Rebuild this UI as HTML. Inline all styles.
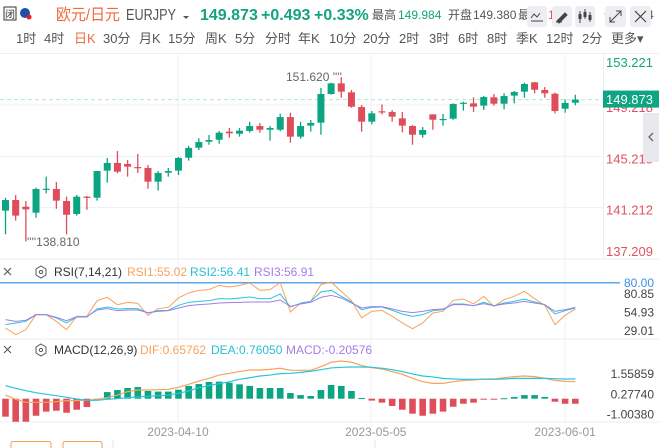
<!DOCTYPE html>
<html><head><meta charset="utf-8">
<style>
body{margin:0;width:659px;height:448px;overflow:hidden;background:#fff;font-family:"Liberation Sans","Noto Sans CJK SC",sans-serif;}
svg{display:block}
</style></head>
<body>
<svg id="chart" width="659" height="448" viewBox="0 0 659 448" xmlns="http://www.w3.org/2000/svg" font-family="Liberation Sans, Noto Sans CJK SC, sans-serif">
<g>
 <rect x="4" y="7" width="12" height="13" fill="none" stroke="#333" stroke-width="1"/>
 <text x="10" y="18" font-size="10" text-anchor="middle" fill="#333">闭</text>
 <circle cx="25" cy="13" r="5" fill="#1f4fa8"/>
 <circle cx="29" cy="17" r="2.5" fill="#e02020"/>
 <text x="56" y="20" font-size="16" fill="#f06a3c" textLength="64" lengthAdjust="spacingAndGlyphs">欧元/日元</text>
 <text x="126" y="20" font-size="16" fill="#555" textLength="50" lengthAdjust="spacingAndGlyphs">EURJPY</text>
 <path d="M183 16 l6 0 l-3 3z" fill="#555"/>
 <text x="200" y="20" font-size="16" font-weight="bold" fill="#14a37f">149.873</text>
 <text x="261" y="20" font-size="16" font-weight="bold" fill="#14a37f">+0.493</text>
 <text x="314" y="20" font-size="16" font-weight="bold" fill="#14a37f">+0.33%</text>
 <text x="372" y="19" font-size="12" fill="#555">最高</text>
 <text x="398" y="19" font-size="12" fill="#14a37f">149.984</text>
 <text x="448" y="19" font-size="12" fill="#555">开盘</text>
 <text x="473" y="19" font-size="12" fill="#555">149.380</text>
 <text x="518" y="19" font-size="12" fill="#555">最</text>
 <text x="548" y="19" font-size="12" fill="#e0525e">1</text>
 <text x="604" y="19" font-size="12" fill="#555">作</text>
 <text x="647" y="19" font-size="12" fill="#555">4</text>
 <rect x="527" y="6" width="20" height="21" rx="3" fill="#eceef2"/>
 <path d="M531 18 l3-4 l3 3 l3-4 M531 21 h12" stroke="#444" fill="none" stroke-width="1"/>
 <rect x="552" y="6" width="20" height="21" rx="3" fill="#eceef2"/>
 <path d="M557 21 l8-8 l2 2 l-8 8z M556 22 h6" stroke="#444" fill="#444" stroke-width="1"/>
 <rect x="575" y="6" width="20" height="21" rx="3" fill="#eceef2"/>
 <path d="M580 11 v12 M585 9 v10 M590 12 v10" stroke="#444" stroke-width="1"/><rect x="578.5" y="14" width="3" height="5" fill="#444"/><rect x="583.5" y="12" width="3" height="5" fill="#444"/><rect x="588.5" y="15" width="3" height="5" fill="#444"/>
 <rect x="605" y="6" width="21" height="21" rx="3" fill="#eceef2"/>
 <path d="M610 22 l11-11 M616 11 h5 v5 M610 17 v5 h5" stroke="#444" fill="none" stroke-width="1"/>
 <rect x="630" y="6" width="21" height="21" rx="3" fill="#eceef2"/>
 <path d="M635 11 l11 11 M646 11 l-11 11" stroke="#444" stroke-width="1.2"/>
</g>
<g id="periods" font-size="13" fill="#555"></g>
<line x1="0" y1="53.5" x2="659" y2="53.5" stroke="#eceef2"/>
<g id="grid"></g>
<g id="main"></g>
<g id="rsi"></g>
<g id="macd"></g>
<g id="axes"></g>
</svg>
<script>
const NS="http://www.w3.org/2000/svg";
// ---- data ----
const opens=[141.21,142.04,141.52,141.05,142.84,142.90,141.96,140.95,142.30,142.22,144.33,144.93,144.85,144.61,144.54,143.47,144.17,144.33,145.34,146.12,146.59,146.74,147.37,147.21,147.42,147.81,147.52,147.52,148.51,146.98,147.84,148.07,150.31,151.14,150.44,149.29,148.15,148.96,148.90,148.41,147.81,147.13,148.72,148.28,148.38,149.55,149.58,149.40,150.05,149.55,150.18,150.49,151.22,150.62,150.33,149.16,149.63];
const highs=[142.22,142.43,141.96,143.00,143.86,143.44,142.30,142.43,142.35,144.30,145.32,145.86,145.16,145.63,144.77,144.30,144.54,145.39,146.25,146.85,147.11,147.42,147.66,147.66,148.15,148.05,147.81,148.77,148.85,148.15,148.28,150.78,151.19,151.62,150.62,149.45,148.98,149.50,149.06,148.90,147.89,147.73,148.72,148.75,149.58,149.71,150.05,150.15,150.31,150.36,150.54,151.19,151.24,150.85,150.41,149.89,150.25];
const lows=[139.36,140.43,138.81,140.66,142.56,141.36,139.36,140.82,141.28,141.99,143.39,144.12,143.86,144.15,142.92,142.77,143.86,143.99,145.11,145.94,146.35,146.43,146.90,146.98,147.29,147.29,146.67,147.40,146.51,146.82,147.37,147.13,150.25,150.02,149.24,147.37,147.94,148.72,148.15,147.32,146.35,146.90,147.52,147.84,148.30,149.01,148.90,149.06,149.40,149.11,149.58,150.02,150.36,150.02,148.80,148.85,149.43];
const closes=[142.04,140.82,141.31,142.90,142.92,141.99,140.89,142.30,142.22,144.30,144.93,144.25,144.64,144.56,143.47,144.15,144.30,145.32,146.10,146.56,146.72,147.29,147.24,147.45,147.81,147.52,147.66,148.51,146.98,147.81,148.05,150.31,151.14,150.49,149.32,148.15,148.80,148.88,148.54,147.84,147.13,147.50,148.30,148.36,149.53,149.63,149.32,150.07,149.55,150.15,150.46,151.09,150.64,150.36,148.98,149.61,149.87];
const rsi1=[33.0,23.6,30.6,51.6,51.6,42.3,30.6,49.3,49.3,71.2,75.9,65.6,68.9,67.5,50.7,60.0,61.9,75.0,82.0,85.7,86.7,92.7,90.4,92.7,96.0,85.7,86.7,96.5,55.4,68.0,70.3,93.7,97.4,84.3,71.2,47.0,56.3,57.7,49.3,40.0,32.0,40.0,54.0,56.3,71.7,73.6,66.6,77.3,63.3,72.6,77.3,84.3,74.0,64.7,37.6,50.7,59.6];
const rsi2=[37.6,40.0,42.3,51.6,51.6,47.0,40.0,48.4,48.4,59.6,62.4,59.6,60.0,60.0,54.0,57.2,57.7,64.7,68.9,70.3,71.2,74.0,73.6,75.0,76.4,74.0,74.0,80.6,62.4,67.5,70.3,83.4,85.7,77.3,69.4,58.6,61.9,62.4,57.7,52.6,49.3,51.6,57.2,58.6,66.6,66.6,64.2,68.9,64.2,68.0,70.3,73.6,69.4,65.6,52.6,57.2,61.0];
const rsi3=[44.6,42.3,43.7,51.6,51.6,47.9,43.2,48.8,48.8,58.2,60.0,57.2,58.2,58.2,54.4,56.3,57.2,61.0,64.2,65.6,66.6,68.0,68.4,68.9,69.4,69.4,69.4,72.2,63.3,66.6,68.9,75.9,78.7,75.0,68.0,61.0,62.8,62.8,59.6,56.3,54.4,56.3,58.6,59.6,65.6,65.6,64.2,67.0,64.2,66.6,68.0,70.3,68.0,65.6,56.3,58.6,61.9];
const dif=[0.23,-0.04,-0.23,-0.23,-0.23,-0.19,-0.12,-0.12,-0.10,-0.04,0.07,0.23,0.45,0.55,0.55,0.57,0.59,0.72,0.91,1.12,1.29,1.50,1.61,1.72,1.82,1.82,1.86,1.93,1.80,1.80,1.80,2.03,2.31,2.39,2.31,2.10,1.97,1.88,1.72,1.55,1.29,1.08,0.97,0.97,1.08,1.16,1.19,1.25,1.25,1.33,1.40,1.44,1.40,1.29,1.16,1.10,1.08];
const dea=[0.83,0.66,0.51,0.38,0.28,0.19,0.09,-0.02,-0.10,-0.10,-0.04,0.00,0.07,0.11,0.15,0.19,0.23,0.34,0.49,0.70,0.83,0.95,1.08,1.23,1.33,1.44,1.50,1.59,1.61,1.67,1.74,1.84,1.95,1.99,2.01,2.01,1.99,1.93,1.84,1.72,1.57,1.44,1.38,1.29,1.25,1.23,1.23,1.23,1.23,1.25,1.29,1.29,1.29,1.29,1.27,1.25,1.25];
const hist=[-1.14,-1.46,-1.46,-1.08,-0.82,-0.76,-0.89,-0.70,-0.53,-0.06,0.42,0.55,0.68,0.74,0.49,0.45,0.45,0.57,0.81,0.93,1.06,1.08,1.02,0.91,0.81,0.68,0.68,0.68,0.36,0.23,0.17,0.55,0.87,0.81,0.49,0.04,-0.12,-0.25,-0.46,-0.70,-0.95,-1.08,-0.95,-0.82,-0.51,-0.32,-0.25,-0.06,-0.06,0.03,0.11,0.23,0.23,0.11,-0.19,-0.32,-0.32];
const priceTicks=[153.221,149.218,145.215,141.212,137.209];
const rsiTicks=["80.85","54.93","29.01"];
const rsiTickVals=[80.85,54.93,29.01];
const macdTicks=[1.55859,0.27740,-1.00380];
const dateLabels=["2023-04-10","2023-05-05","2023-06-01"];
const dateIdx=[17,36,55];
const periods=["1时","4时","日K","30分","月K","15分","周K","5分","分时","年K","10分","20分","2时","3时","6时","8时","季K","12时","2分","更多▾"];
const lastPrice=149.873;
// ---- axes ----
const xOf=i=>5.5+10.175*i;
const yP=p=>(157.64-p)/0.078;
const yR=v=>312.3-(v-54.93)*0.714;
const yM=v=>398.7-15.77*v;
const GREEN="#0ca582",RED="#df4d5b";
function el(tag,attrs,parent,text){const e=document.createElementNS(NS,tag);for(const k in attrs)e.setAttribute(k,attrs[k]);if(text!==undefined)e.textContent=text;parent.appendChild(e);return e;}
const svg=document.getElementById('chart');
// periods
const pg=document.getElementById('periods');
const px=[16,44,74,103,139,168,205,235,265,298,329,363,399,429,458,487,516,546,582,611];
periods.forEach((t,i)=>{const e=el('text',{x:px[i],y:43,fill:i===2?"#f06a3c":"#555"},pg,t);

});
// grid
const grid=document.getElementById('grid');
[178,371,565].forEach(x=>{const l=el('line',{x1:x,y1:54,x2:x,y2:422,stroke:"#f0f1f4"},grid);

});
priceTicks.forEach(v=>{const y=yP(v)-3;if(y>60&&y<258){const l=el('line',{x1:0,y1:y,x2:603,y2:y,stroke:"#f0f1f4"},grid);

}});
[259,339,422].forEach(y=>{const l=el('line',{x1:0,y1:y,x2:659,y2:y,stroke:"#eceef2"},grid);

});
el('line',{x1:603.5,y1:54,x2:603.5,y2:259,stroke:"#eceef2"},grid);
// main candles
const main=document.getElementById('main');
const cl=el('line',{x1:0,y1:yP(lastPrice),x2:603,y2:yP(lastPrice),stroke:"#b8e4d6","stroke-dasharray":"4,3"},main);


opens.forEach((o,i)=>{const c=closes[i],up=c>=o,col=up?GREEN:RED,x=xOf(i);
const g=el('g',{},main);


el('line',{x1:x,y1:yP(highs[i]),x2:x,y2:yP(lows[i]),stroke:col,"stroke-width":1.3},g);
const t=yP(Math.max(o,c)),b=yP(Math.min(o,c));
el('rect',{x:x-3.5,y:t,width:7,height:Math.max(1.2,b-t),fill:col},g);});
const hiT=el('text',{x:286,y:81,"font-size":12,fill:"#666"},main,"151.620 ''''");


const loT=el('text',{x:27,y:246,"font-size":12,fill:"#666"},main,"''''138.810");


// RSI
const rsi=document.getElementById('rsi');
el('path',{d:"M4 268 l7 7 M11 268 l-7 7",stroke:"#555","stroke-width":1.1},rsi);
el('path',{d:"M41 266 l5 3 v6 l-5 3 l-5-3 v-6z",fill:"none",stroke:"#555"},rsi);
el('circle',{cx:41,cy:272,r:1.6,fill:"none",stroke:"#555"},rsi);
[["RSI(7,14,21)",54,"#333"],["RSI1:55.02",127,"#f7a35c"],["RSI2:56.41",190,"#26bfd6"],["RSI3:56.91",254,"#a27de8"]].forEach(a=>{const e=el('text',{x:a[1],y:276,"font-size":12,fill:a[2]},rsi,a[0]);

});
const ob=el('line',{x1:0,y1:282.7,x2:620,y2:282.7,stroke:"#5aa7f0","stroke-width":1.5},rsi);


[[rsi1,"#f7a35c"],[rsi2,"#26c6da"],[rsi3,"#a27de8"]].forEach(s=>{const p=el('polyline',{points:s[0].map((v,i)=>xOf(i)+","+yR(v)).join(" "),fill:"none",stroke:s[1],"stroke-width":1},rsi);

});
// MACD
const macd=document.getElementById('macd');
el('path',{d:"M4 346 l7 7 M11 346 l-7 7",stroke:"#555","stroke-width":1.1},macd);
el('path',{d:"M41 344 l5 3 v6 l-5 3 l-5-3 v-6z",fill:"none",stroke:"#555"},macd);
el('circle',{cx:41,cy:350,r:1.6,fill:"none",stroke:"#555"},macd);
[["MACD(12,26,9)",54,"#333"],["DIF:0.65762",140,"#f7a35c"],["DEA:0.76050",211,"#26bfd6"],["MACD:-0.20576",286,"#a27de8"]].forEach(a=>{const e=el('text',{x:a[1],y:354,"font-size":12,fill:a[2]},macd,a[0]);

});
hist.forEach((v,i)=>{const y0=yM(0),y1=yM(v);const r=el('rect',{x:xOf(i)-3.3,y:Math.min(y0,y1),width:6.6,height:Math.max(1,Math.abs(y1-y0)),fill:v>=0?GREEN:RED},macd);

});
[[dif,"#f7a35c"],[dea,"#26c6da"]].forEach(s=>{const p=el('polyline',{points:s[0].map((v,i)=>xOf(i)+","+yM(v)).join(" "),fill:"none",stroke:s[1],"stroke-width":1.2},macd);

});
// axes labels
const ax=document.getElementById('axes');
priceTicks.forEach(v=>{let y=Math.min(252,Math.max(63,yP(v)));const t=el('text',{x:653,y:y+4,"font-size":13,"text-anchor":"end",fill:v>lastPrice?"#14a37f":"#e0525e"},ax,v.toFixed(3));

});
const lb=el('rect',{x:603,y:yP(lastPrice)-9,width:56,height:17,fill:"#0fa583"},ax);


el('text',{x:653,y:yP(lastPrice)+4.5,"font-size":13,"text-anchor":"end",fill:"#fff"},ax,lastPrice.toFixed(3));
const tab=el('rect',{x:643,y:113,width:16,height:49,fill:"#e8e9ee"},ax);


el('path',{d:"M653 133 l-4 4 l4 4",fill:"none",stroke:"#666","stroke-width":1.3},ax);
const t80=el('text',{x:654,y:287,"font-size":12,"text-anchor":"end",fill:"#3b8fe8"},ax,"80.00");


rsiTicks.forEach((s,i)=>{const t=el('text',{x:654,y:yR(rsiTickVals[i])+4,"font-size":12,"text-anchor":"end",fill:"#444"},ax,s);

});
macdTicks.forEach(v=>{const t=el('text',{x:654,y:yM(v)+4,"font-size":12,"text-anchor":"end",fill:"#444"},ax,v.toFixed(5));

});
dateLabels.forEach((s,i)=>{const t=el('text',{x:xOf(dateIdx[i])+(i===0?-0.5:i===1?4:0),y:436,"font-size":12,"text-anchor":"middle",fill:"#999"},ax,s);

});
[[11,40],[63,39]].forEach(b=>{const r=el('rect',{x:b[0],y:441.5,width:b[1],height:12,rx:2,fill:"none",stroke:"#f0a050"},ax);

});
[113,375].forEach(x=>el('line',{x1:x,y1:440,x2:x,y2:448,stroke:"#e6e6e6"},ax));
</script>
</body></html>
